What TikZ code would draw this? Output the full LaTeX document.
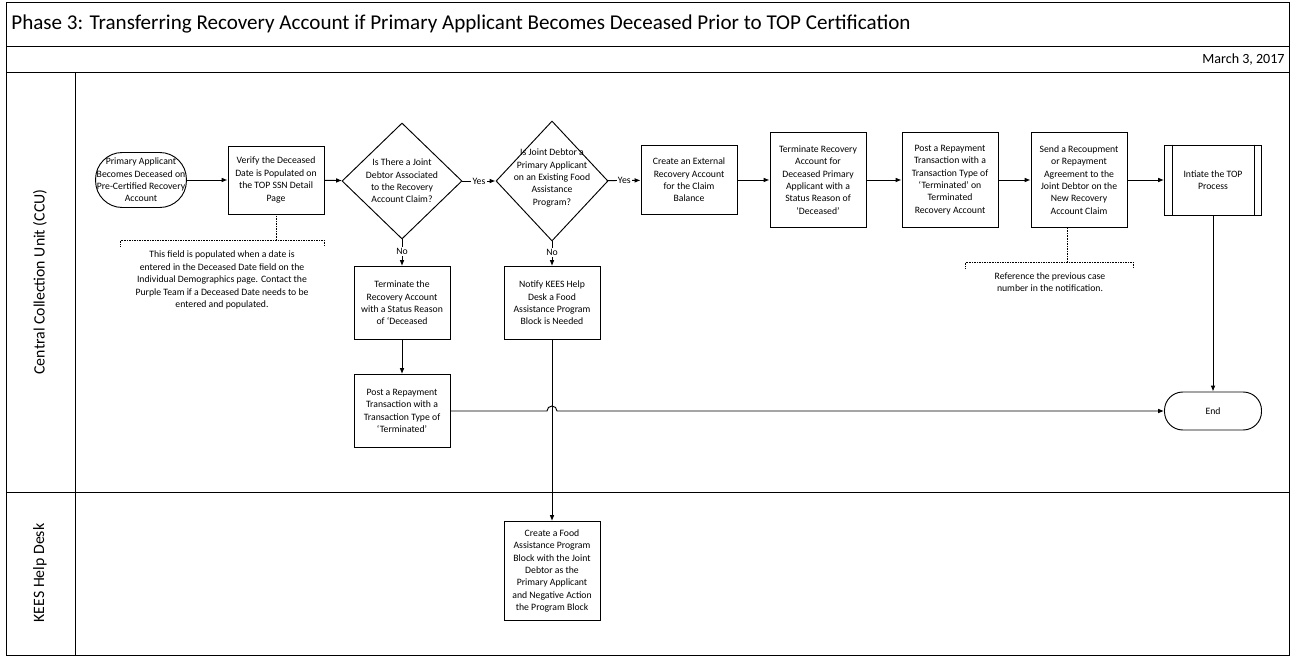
\documentclass[tikz,border=0pt]{standalone}
\usepackage{fontspec}
\setmainfont{Carlito}
\usetikzlibrary{shapes.geometric,shapes.multipart,arrows.meta}
\begin{document}
\begin{tikzpicture}[x=0.03cm,y=-0.03cm,
  every node/.style={font=\fontsize{8.3}{10.6}\selectfont,align=center,inner sep=1pt},
  box/.style={draw,thick,fill=white,minimum width=96*0.03cm},
  term/.style={draw,thick,fill=white,rounded corners=0.55cm,minimum width=97*0.03cm},
  dia/.style={draw,thick,diamond,aspect=1,inner sep=0pt},
  arr/.style={-{Latex[length=5pt,width=4pt]},thick},
  dot/.style={densely dotted,thin},
  lab/.style={fill=white,inner sep=1pt}]
\useasboundingbox (0,0) rectangle (1295,657);
\draw[thick] (6,2) rectangle (1289,655);
\draw[thick] (6,46) -- (1289,46);
\draw[thick] (6,72) -- (1289,72);
\draw[thick] (75,72) -- (75,655);
\draw[thick] (6,492) -- (1289,492);
\node[anchor=west,font=\fontsize{18}{20}\selectfont] (title) at (10,24) {Phase 3: Transferring Recovery Account if Primary Applicant Becomes Deceased Prior to TOP Certification};
\node[anchor=east,font=\fontsize{12}{14}\selectfont] (date) at (1286,60) {March 3, 2017};
\node[rotate=90,font=\fontsize{13.5}{15}\selectfont] (l1) at (40,282) {Central Collection Unit (CCU)};
\node[rotate=90,font=\fontsize{13.5}{15}\selectfont] (l2) at (40,573) {KEES Help Desk};

\node[term,minimum width=90*0.03cm,minimum height=55*0.03cm,rounded corners=0.8cm] (s) at (141,180) {Primary Applicant\\Becomes Deceased on\\Pre-Certified Recovery\\Account};
\node[box,minimum height=68*0.03cm] (v) at (276,180) {Verify the Deceased\\Date is Populated on\\the TOP SSN Detail\\Page};
\node[dia,minimum width=120*0.03cm,minimum height=116*0.03cm] (d1) at (402,181) {};
\node (d1t) at (402,181) {Is There a Joint\\Debtor Associated\\to the Recovery\\Account Claim?};
\node[dia,minimum width=112*0.03cm,minimum height=120*0.03cm] (d2) at (552,181) {};
\node (d2t) at (552,178) {Is Joint Debtor a\\Primary Applicant\\on an Existing Food\\Assistance\\Program?};
\node[box,minimum height=69*0.03cm] (c) at (689,180) {Create an External\\Recovery Account\\for the Claim\\Balance};
\node[box,minimum height=95*0.03cm] (t) at (818,180) {Terminate Recovery\\Account for\\Deceased Primary\\Applicant with a\\Status Reason of\\`Deceased'};
\node[box,minimum height=95*0.03cm] (p) at (950,180) {Post a Repayment\\Transaction with a\\Transaction Type of\\`Terminated' on\\Terminated\\Recovery Account};
\node[box,minimum height=95*0.03cm] (sd) at (1079,180) {Send a Recoupment\\or Repayment\\Agreement to the\\Joint Debtor on the\\New Recovery\\Account Claim};
\node[box,minimum width=97*0.03cm,minimum height=70*0.03cm] (top) at (1213,180) {Intiate the TOP\\Process};
\draw[thick] ([xshift=8*0.03cm]top.north west) -- ([xshift=8*0.03cm]top.south west);
\draw[thick] ([xshift=-8*0.03cm]top.north east) -- ([xshift=-8*0.03cm]top.south east);
\node[box,minimum height=73*0.03cm] (tn) at (402,303) {Terminate the\\Recovery Account\\with a Status Reason\\of `Deceased};
\node[box,minimum height=73*0.03cm] (n) at (552,303) {Notify KEES Help\\Desk a Food\\Assistance Program\\Block is Needed};
\node[box,minimum height=73*0.03cm] (p2) at (402,411) {Post a Repayment\\Transaction with a\\Transaction Type of\\`Terminated'};
\node[term,minimum height=38*0.03cm,rounded corners=0.55cm] (e) at (1213,411) {End};
\node[box,minimum height=99*0.03cm] (f) at (552,571) {Create a Food\\Assistance Program\\Block with the Joint\\Debtor as the\\Primary Applicant\\and Negative Action\\the Program Block};

\draw[arr] (s) -- (v);
\draw[arr] (v) -- (d1);
\draw[arr] (d1) -- node[lab]{Yes} (d2);
\draw[arr] (d2) -- node[lab]{Yes} (c);
\draw[arr] (c) -- (t);
\draw[arr] (t) -- (p);
\draw[arr] (p) -- (sd);
\draw[arr] (sd) -- (top);
\draw[arr] (top) -- (e);
\draw[arr] (d1.south) -- node[lab,pos=0.45]{No} (tn);
\draw[arr] (d2.south) -- node[lab,pos=0.45]{No} (n);
\draw[arr] (tn) -- (p2);
\draw[arr] (n) -- (f);
\coordinate (j1) at (547,411); \coordinate (j2) at (557,411);
\draw[arr] (p2.east) -- (j1) arc[start angle=180,end angle=0,radius=5*0.03cm] -- (e.west);

\coordinate (a1) at (276,240);
\draw[dot] (v.south) -- (a1);
\draw[dot] (120,246) -- (120,240) -- (324,240) -- (324,246);
\node (an1) at (222,280) {This field is populated when a date is\\entered in the Deceased Date field on the\\Individual Demographics page. Contact the\\Purple Team if a Deceased Date needs to be\\entered and populated.};
\coordinate (a2) at (1067,262);
\draw[dot] (1067,228) -- (a2);
\draw[dot] (965,268) -- (965,262) -- (1133,262) -- (1133,268);
\node (an2) at (1050,282) {Reference the previous case\\number in the notification.};
\end{tikzpicture}
\end{document}
